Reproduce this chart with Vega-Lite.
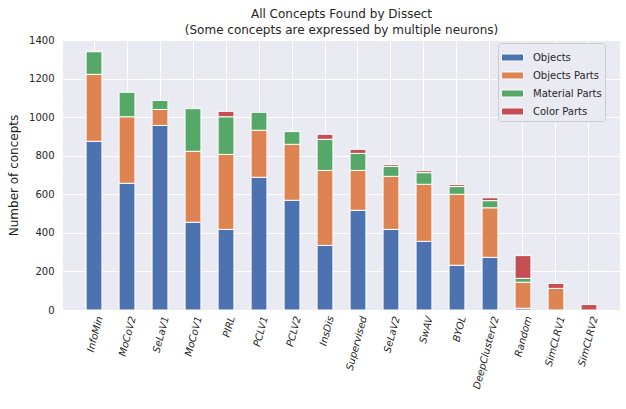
{
  "$schema": "https://vega.github.io/schema/vega-lite/v6.json",
  "autosize": {"type": "none"},
  "padding": {"left": 63, "top": 40, "right": 6, "bottom": 99},
  "width": 557,
  "height": 270,
  "background": "white",
  "title": {
    "text": ["All Concepts Found by Dissect", "(Some concepts are expressed by multiple neurons)"],
    "fontSize": 12,
    "fontWeight": "normal",
    "color": "#262626",
    "anchor": "middle",
    "lineHeight": 16,
    "offset": -2
  },
  "config": {
    "font": "DejaVu Sans",
    "view": {"fill": "#EAEAF2", "stroke": null},
    "axis": {
      "domain": false,
      "ticks": false,
      "grid": true,
      "gridColor": "white",
      "gridWidth": 1,
      "labelColor": "#262626",
      "labelFontSize": 10,
      "titleColor": "#262626",
      "titleFontWeight": "normal",
      "titleFontSize": 12
    }
  },
  "data": {
    "values": [
      {"model": "InfoMin", "type": "Objects", "count": 875},
      {"model": "InfoMin", "type": "Objects Parts", "count": 347},
      {"model": "InfoMin", "type": "Material Parts", "count": 117},
      {"model": "MoCoV2", "type": "Objects", "count": 657},
      {"model": "MoCoV2", "type": "Objects Parts", "count": 345},
      {"model": "MoCoV2", "type": "Material Parts", "count": 127},
      {"model": "SeLaV1", "type": "Objects", "count": 957},
      {"model": "SeLaV1", "type": "Objects Parts", "count": 83},
      {"model": "SeLaV1", "type": "Material Parts", "count": 47},
      {"model": "MoCoV1", "type": "Objects", "count": 455},
      {"model": "MoCoV1", "type": "Objects Parts", "count": 368},
      {"model": "MoCoV1", "type": "Material Parts", "count": 221},
      {"model": "PIRL", "type": "Objects", "count": 418},
      {"model": "PIRL", "type": "Objects Parts", "count": 389},
      {"model": "PIRL", "type": "Material Parts", "count": 195},
      {"model": "PIRL", "type": "Color Parts", "count": 28},
      {"model": "PCLV1", "type": "Objects", "count": 688},
      {"model": "PCLV1", "type": "Objects Parts", "count": 244},
      {"model": "PCLV1", "type": "Material Parts", "count": 93},
      {"model": "PCLV2", "type": "Objects", "count": 569},
      {"model": "PCLV2", "type": "Objects Parts", "count": 290},
      {"model": "PCLV2", "type": "Material Parts", "count": 66},
      {"model": "InsDis", "type": "Objects", "count": 335},
      {"model": "InsDis", "type": "Objects Parts", "count": 389},
      {"model": "InsDis", "type": "Material Parts", "count": 161},
      {"model": "InsDis", "type": "Color Parts", "count": 26},
      {"model": "Supervised", "type": "Objects", "count": 517},
      {"model": "Supervised", "type": "Objects Parts", "count": 207},
      {"model": "Supervised", "type": "Material Parts", "count": 88},
      {"model": "Supervised", "type": "Color Parts", "count": 21},
      {"model": "SeLaV2", "type": "Objects", "count": 418},
      {"model": "SeLaV2", "type": "Objects Parts", "count": 275},
      {"model": "SeLaV2", "type": "Material Parts", "count": 52},
      {"model": "SeLaV2", "type": "Color Parts", "count": 9},
      {"model": "SwAV", "type": "Objects", "count": 356},
      {"model": "SwAV", "type": "Objects Parts", "count": 296},
      {"model": "SwAV", "type": "Material Parts", "count": 60},
      {"model": "SwAV", "type": "Color Parts", "count": 10},
      {"model": "BYOL", "type": "Objects", "count": 232},
      {"model": "BYOL", "type": "Objects Parts", "count": 368},
      {"model": "BYOL", "type": "Material Parts", "count": 40},
      {"model": "BYOL", "type": "Color Parts", "count": 10},
      {"model": "DeepClusterV2", "type": "Objects", "count": 273},
      {"model": "DeepClusterV2", "type": "Objects Parts", "count": 257},
      {"model": "DeepClusterV2", "type": "Material Parts", "count": 37},
      {"model": "DeepClusterV2", "type": "Color Parts", "count": 15},
      {"model": "Random", "type": "Objects", "count": 9},
      {"model": "Random", "type": "Objects Parts", "count": 135},
      {"model": "Random", "type": "Material Parts", "count": 20},
      {"model": "Random", "type": "Color Parts", "count": 118},
      {"model": "SimCLRV1", "type": "Objects Parts", "count": 112},
      {"model": "SimCLRV1", "type": "Color Parts", "count": 26},
      {"model": "SimCLRV2", "type": "Color Parts", "count": 28}
    ]
  },
  "transform": [
    {"calculate": "indexof(['Objects', 'Objects Parts', 'Material Parts', 'Color Parts'], datum.type)", "as": "stackOrder"}
  ],
  "mark": {"type": "bar", "stroke": "white", "strokeWidth": 1},
  "encoding": {
    "x": {
      "field": "model",
      "type": "nominal",
      "sort": null,
      "scale": {"paddingInner": 0.52, "paddingOuter": 0.7},
      "axis": {
        "title": null,
        "labelAngle": -75,
        "labelFontStyle": "italic",
        "labelPadding": 6,
        "labelOffset": 6,
        "bandPosition": 0.5
      }
    },
    "y": {
      "field": "count",
      "type": "quantitative",
      "stack": "zero",
      "scale": {"domain": [0, 1400], "nice": false},
      "axis": {
        "title": "Number of concepts",
        "format": "d",
        "values": [0, 200, 400, 600, 800, 1000, 1200, 1400],
        "labelPadding": 9,
        "titlePadding": 8
      }
    },
    "color": {
      "field": "type",
      "type": "nominal",
      "scale": {
        "domain": ["Objects", "Objects Parts", "Material Parts", "Color Parts"],
        "range": ["#4C72B0", "#DD8452", "#55A868", "#C44E52"]
      },
      "legend": {
        "title": null,
        "orient": "none",
        "legendX": 435,
        "legendY": 3,
        "padding": 3,
        "fillColor": "#EAEAF2",
        "strokeColor": "#CCCCCC",
        "cornerRadius": 3,
        "symbolType": "M-1,-0.32H1V0.32H-1Z",
        "symbolSize": 484,
        "symbolStrokeColor": "white",
        "symbolStrokeWidth": 1,
        "symbolOpacity": 1,
        "labelFontSize": 10,
        "labelColor": "#262626",
        "labelOffset": 9,
        "rowPadding": -8
      }
    },
    "order": {"field": "stackOrder", "type": "quantitative"}
  }
}
